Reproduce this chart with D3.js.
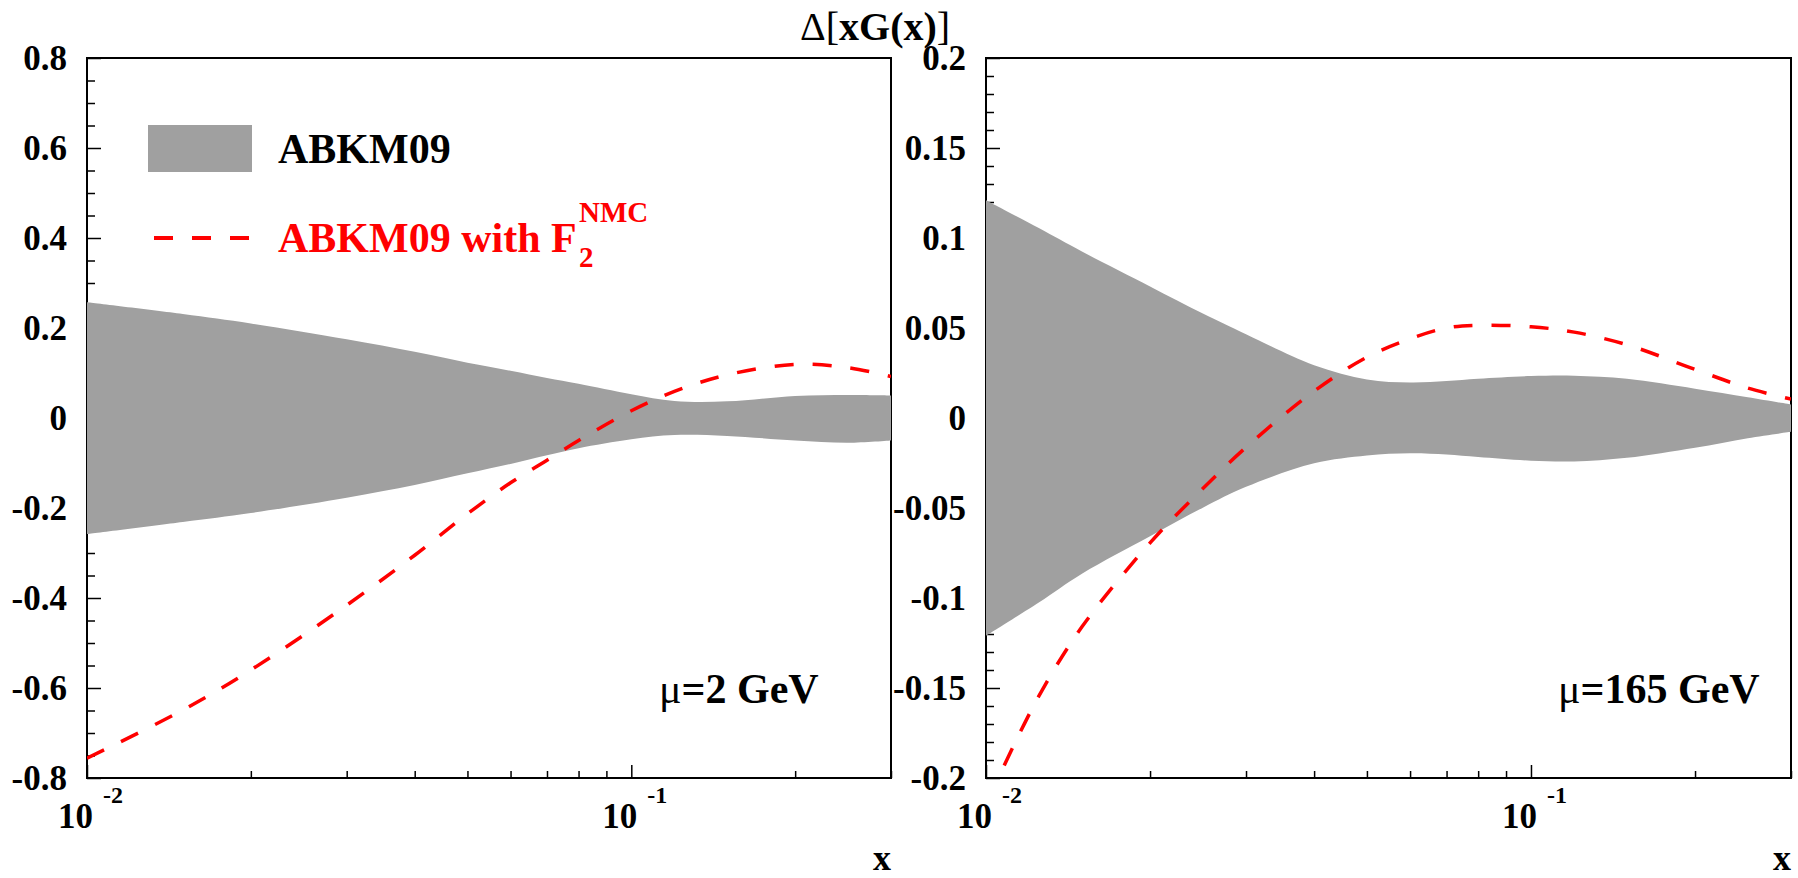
<!DOCTYPE html>
<html>
<head>
<meta charset="utf-8">
<script src="https://cdn.jsdelivr.net/npm/d3@7"></script>
<style>
  body { margin: 0; background: #fff; }
  svg { display: block; }
  text { font-family: "Liberation Serif", "Times New Roman", serif; font-weight: bold; }
</style>
</head>
<body>
<svg id="svg" width="1798" height="878"></svg>
<script>
// mu = 2 GeV : band edges of ABKM09 and the NMC variant
const xLow = [0.01, 0.015, 0.02, 0.03, 0.04, 0.05, 0.06, 0.07, 0.08, 0.1, 0.12, 0.15, 0.2, 0.25, 0.3];
const bandUpLow = [0.257, 0.231, 0.210, 0.175, 0.147, 0.123, 0.105, 0.089, 0.076, 0.053, 0.038, 0.037, 0.049, 0.051, 0.050];
const bandDnLow = [-0.258, -0.231, -0.211, -0.177, -0.149, -0.123, -0.102, -0.083, -0.067, -0.047, -0.038, -0.040, -0.050, -0.055, -0.050];
const nmcLow = [-0.756, -0.649, -0.56, -0.416, -0.305, -0.213, -0.144, -0.094, -0.050, 0.016, 0.059, 0.096, 0.119, 0.112, 0.092];

// mu = 165 GeV
const xHigh = [0.01, 0.0125, 0.015, 0.02, 0.025, 0.03, 0.04, 0.05, 0.06, 0.07, 0.08, 0.1, 0.12, 0.15, 0.2, 0.25, 0.3];
const bandUpHigh = [0.121, 0.1055, 0.0925, 0.0731, 0.058, 0.0465, 0.0293, 0.0214, 0.0197, 0.0205, 0.0218, 0.0233, 0.0235, 0.0218, 0.0163, 0.0115, 0.0075];
const bandDnHigh = [-0.121, -0.1025, -0.0865, -0.0657, -0.0498, -0.0382, -0.0252, -0.0208, -0.0196, -0.0203, -0.0217, -0.0237, -0.0241, -0.0221, -0.0165, -0.0112, -0.0077];
const xNmcHigh = [0.0108, 0.0125, 0.015, 0.02, 0.025, 0.03, 0.04, 0.05, 0.06, 0.07, 0.08, 0.1, 0.12, 0.15, 0.2, 0.25, 0.3];
const nmcHigh = [-0.193, -0.1545, -0.116, -0.0694, -0.0392, -0.0163, 0.0149, 0.0338, 0.044, 0.050, 0.0515, 0.0507, 0.0477, 0.0407, 0.027, 0.0166, 0.0105];

// axis ticks
const xMajor = [0.01, 0.1];
const xMinor = [0.02, 0.03, 0.04, 0.05, 0.06, 0.07, 0.08, 0.09, 0.2, 0.3];
const yMajorLow = [-0.8, -0.6, -0.4, -0.2, 0, 0.2, 0.4, 0.6, 0.8];
const yMajorHigh = [-0.2, -0.15, -0.1, -0.05, 0, 0.05, 0.1, 0.15, 0.2];

const RED = "#ff0000";
const GREY = "#a0a0a0";

const svg = d3.select("#svg");

const drawPanel = (p) => {
  const g = svg.append("g").attr("transform", `translate(${p.left},${p.top})`);
  const w = p.width, h = p.height;

  const x = d3.scaleLog().domain([0.01, 0.3]).range([0, w]);
  const y = d3.scaleLinear().domain(p.yDomain).range([h, 0]);
  const curve = d3.curveCatmullRom.alpha(0.5);

  //clip region
  g.append("clipPath").attr("id", "clip" + p.id)
    .append("rect").attr("width", w).attr("height", h);

  //frame
  g.append("rect")
    .attr("width", w).attr("height", h)
    .attr("fill", "none").attr("stroke", "#000").attr("stroke-width", 2);

  //y axis major + minor ticks (pointing inward)
  const yMinor = d3.range(p.yDomain[0], p.yDomain[1] + 1e-9, p.yMinorStep)
    .filter(v => !p.yMajor.some(m => Math.abs(m - v) < 1e-9));
  const yAx = g.append("g")
    .call(d3.axisLeft(y).tickValues(p.yMajor).tickSize(-14).tickPadding(20)
      .tickFormat(d => `${+d.toFixed(2)}`));
  yAx.select(".domain").remove();
  yAx.selectAll("line").attr("stroke-width", 1.5);
  yAx.selectAll("text").attr("font-size", 35).attr("fill", "#000")
    .attr("font-family", "Liberation Serif").attr("font-weight", "bold");
  const yMin = g.append("g")
    .call(d3.axisLeft(y).tickValues(yMinor).tickSize(-8).tickFormat(""));
  yMin.select(".domain").remove();
  yMin.selectAll("line").attr("stroke-width", 1.5);

  //x axis ticks (pointing up)
  const xAx = g.append("g").attr("transform", `translate(0,${h})`)
    .call(d3.axisBottom(x).tickValues(xMajor).tickSize(-13).tickFormat(""));
  xAx.select(".domain").remove();
  xAx.selectAll("line").attr("stroke-width", 1.5);
  const xMin = g.append("g").attr("transform", `translate(0,${h})`)
    .call(d3.axisBottom(x).tickValues(xMinor).tickSize(-7).tickFormat(""));
  xMin.select(".domain").remove();
  xMin.selectAll("line").attr("stroke-width", 1.5);

  //x tick labels 10^n
  const lab = g.selectAll(".xlab").data(xMajor).join("g").attr("class", "xlab");
  lab.append("text")
    .attr("x", d => x(d) + 6).attr("y", h + 50)
    .attr("text-anchor", "end").attr("font-size", 35)
    .text("10");
  lab.append("text")
    .attr("x", d => x(d) + 16).attr("y", h + 25)
    .attr("font-size", 24)
    .text(d => `${Math.round(Math.log10(d))}`);

  //x title
  g.append("text")
    .attr("x", w).attr("y", h + 92)
    .attr("text-anchor", "end").attr("font-size", 36)
    .text("x");

  //band
  const band = p.xs.map((v, i) => ({ x: v, lo: p.dn[i], hi: p.up[i] }));
  g.append("path")
    .datum(band)
    .attr("clip-path", `url(#clip${p.id})`)
    .attr("fill", GREY)
    .attr("d", d3.area()
      .x(d => x(d.x)).y0(d => y(d.lo)).y1(d => y(d.hi))
      .curve(curve));

  //NMC curve
  const nmc = p.nx.map((v, i) => ({ x: v, v: p.nmc[i] }));
  g.append("path")
    .datum(nmc)
    .attr("clip-path", `url(#clip${p.id})`)
    .attr("fill", "none")
    .attr("stroke", RED).attr("stroke-width", 3.5)
    .attr("stroke-dasharray", "19,19")
    .attr("d", d3.line().x(d => x(d.x)).y(d => y(d.v)).curve(curve));

  //scale label
  const mu = g.append("text").attr("x", 572).attr("y", 645).attr("font-size", 42);
  mu.append("tspan").attr("font-weight", "normal").text("\u03bc");
  mu.append("tspan").text(p.label);

  return g;
};

drawPanel({
  id: "a", left: 87, top: 58, width: 804, height: 720,
  yDomain: [-0.8, 0.8], yMajor: yMajorLow, yMinorStep: 0.05,
  xs: xLow, up: bandUpLow, dn: bandDnLow, nx: xLow, nmc: nmcLow,
  label: "=2 GeV"
});

drawPanel({
  id: "b", left: 986, top: 58, width: 805, height: 720,
  yDomain: [-0.2, 0.2], yMajor: yMajorHigh, yMinorStep: 0.01,
  xs: xHigh, up: bandUpHigh, dn: bandDnHigh, nx: xNmcHigh, nmc: nmcHigh,
  label: "=165 GeV"
});

//legend (in page coordinates)
svg.append("rect")
  .attr("x", 148).attr("y", 125).attr("width", 104).attr("height", 47)
  .attr("fill", GREY);
svg.append("text")
  .attr("x", 278).attr("y", 163).attr("font-size", 42).attr("fill", "#000")
  .text("ABKM09");
svg.append("line")
  .attr("x1", 154).attr("x2", 250).attr("y1", 238).attr("y2", 238)
  .attr("stroke", RED).attr("stroke-width", 4)
  .attr("stroke-dasharray", "19,19");
svg.append("text").attr("x", 278).attr("y", 252).attr("font-size", 42).attr("fill", RED)
  .text("ABKM09 with F");
svg.append("text").attr("x", 579).attr("y", 267).attr("font-size", 29).attr("fill", RED).text("2");
svg.append("text").attr("x", 579).attr("y", 222).attr("font-size", 29).attr("fill", RED).text("NMC");

//overall title
const title = svg.append("text").attr("x", 800).attr("y", 40).attr("font-size", 40);
title.append("tspan").attr("font-weight", "normal").text("\u0394[");
title.append("tspan").text("xG(x)");
title.append("tspan").attr("font-weight", "normal").text("]");
</script>
</body>
</html>
